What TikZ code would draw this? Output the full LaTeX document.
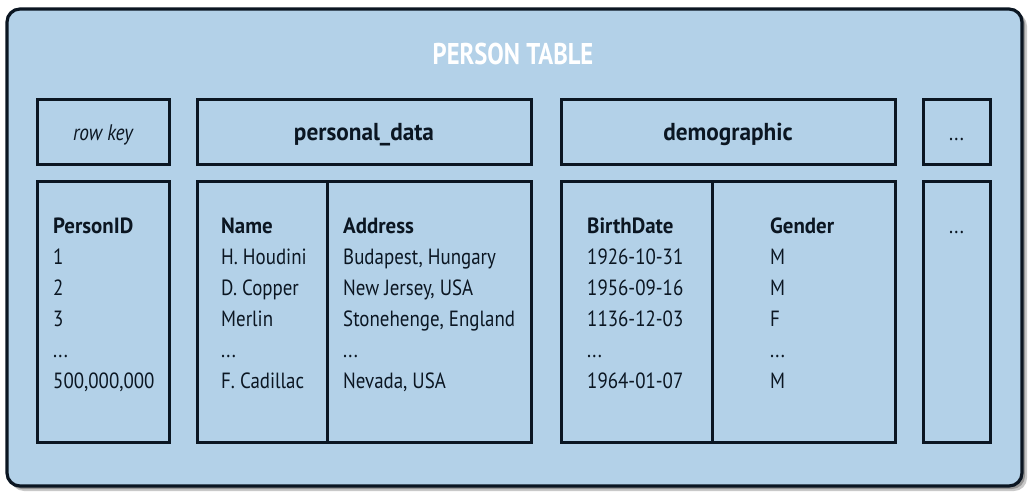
\documentclass[tikz,border=0pt]{standalone}
\usepackage{fontspec}
\setmainfont[FakeStretch=0.86, BoldFeatures={FakeStretch=0.95}]{PT Sans}
\newfontfamily\titlefont[FakeStretch=0.82]{PT Sans}
\definecolor{fillblue}{HTML}{B3D1E8}
\definecolor{ink}{HTML}{0B1622}
\begin{document}
\begin{tikzpicture}[x=1pt,y=-1pt,
  box/.style={draw=ink, line width=3pt, fill=fillblue, rectangle, inner sep=0pt, outer sep=0pt},
  outerbox/.style={draw=ink, line width=3.2pt, fill=fillblue, rounded corners=13pt},
  hdr/.style={anchor=base, font=\fontsize{24.5}{28}\selectfont\bfseries, text=ink, inner sep=0pt},
  col/.style={anchor=base west, font=\fontsize{22}{31}\selectfont, text=ink, inner sep=0pt},
  dots/.style={anchor=base, font=\fontsize{22}{25}\selectfont, text=ink, inner sep=0pt},
  divider/.style={draw=ink, line width=3pt}]
\useasboundingbox (0,0) rectangle (1033,500);
\fill[white] (0,0) rectangle (1033,500);
% shadow
\fill[black!35, rounded corners=13pt, opacity=0.6] (11,13) rectangle (1027,491);
\fill[black!55, rounded corners=13pt, opacity=0.6] (9,11) rectangle (1025,489);
\draw[outerbox] (7,9) rectangle (1022,486);
\node[font=\fontsize{30}{34}\selectfont\titlefont\bfseries, text=white, anchor=base, inner sep=0pt] (title) at (513,65) {PERSON TABLE};
% header boxes
\node[box, minimum width=132pt, minimum height=64pt] (rkH) at (103,132) {};
\node[box, minimum width=334pt, minimum height=64pt] (pdH) at (364,132) {};
\node[box, minimum width=334pt, minimum height=64pt] (dgH) at (728,132) {};
\node[box, minimum width=67pt, minimum height=64pt] (exH) at (956.5,132) {};
% body boxes
\node[box, minimum width=132pt, minimum height=261pt] (rkB) at (103,311.5) {};
\node[box, minimum width=334pt, minimum height=261pt] (pdB) at (364,311.5) {};
\node[box, minimum width=334pt, minimum height=261pt] (dgB) at (728,311.5) {};
\node[box, minimum width=67pt, minimum height=261pt] (exB) at (956.5,311.5) {};
\draw[divider] ([xshift=130pt]pdB.north west) -- ([xshift=130pt]pdB.south west);
\draw[divider] ([xshift=151pt]dgB.north west) -- ([xshift=151pt]dgB.south west);
% header labels
\node[hdr, font=\fontsize{22.5}{25}\selectfont\itshape] (rkL) at (103,140) {row key};
\node[hdr] (pdL) at (364,140) {personal\_data};
\node[hdr] (dgL) at (728,140) {demographic};
\node[dots] (exL) at (956.5,140) {...};
% columns
\node[col] (c1) at (53,233) {\begin{tabular}[t]{@{}l@{}}\textbf{PersonID}\\1\\2\\3\\...\\500,000,000\end{tabular}};
\node[col] (c2) at (221,233) {\begin{tabular}[t]{@{}l@{}}\textbf{Name}\\H. Houdini\\D. Copper\\Merlin\\...\\F. Cadillac\end{tabular}};
\node[col] (c3) at (343,233) {\begin{tabular}[t]{@{}l@{}}\textbf{Address}\\Budapest, Hungary\\New Jersey, USA\\Stonehenge, England\\...\\Nevada, USA\end{tabular}};
\node[col] (c4) at (587,233) {\begin{tabular}[t]{@{}l@{}}\textbf{BirthDate}\\1926-10-31\\1956-09-16\\1136-12-03\\...\\1964-01-07\end{tabular}};
\node[col] (c5) at (770,233) {\begin{tabular}[t]{@{}l@{}}\textbf{Gender}\\M\\M\\F\\...\\M\end{tabular}};
\node[dots] (exD) at (956.5,233) {...};
\end{tikzpicture}
\end{document}
